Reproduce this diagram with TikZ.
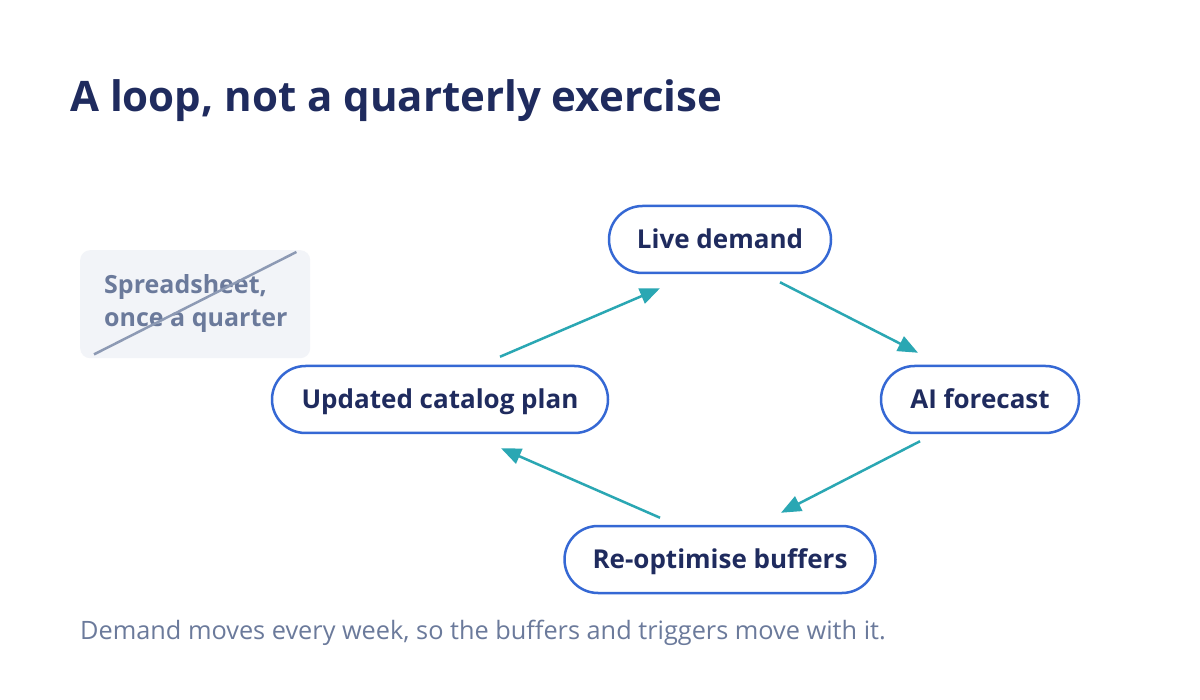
\documentclass[tikz,border=0pt]{standalone}
\usepackage{fontspec}
\setmainfont{Open Sans}
\usetikzlibrary{arrows.meta,calc}

\definecolor{navy}{HTML}{1F2B5E}
\definecolor{pillblue}{HTML}{3568D4}
\definecolor{teal}{HTML}{2AA7B3}
\definecolor{slate}{HTML}{6B7A9B}
\definecolor{strike}{HTML}{8D9AB4}
\definecolor{paper}{HTML}{F2F4F8}

\begin{document}
\begin{tikzpicture}[x=1pt,y=-1pt,>={Triangle[length=20pt,width=16pt]},
  pill/.style={draw=pillblue,line width=2.5pt,fill=white,
    rounded corners=33.5pt,minimum height=67pt,text=navy,
    text height=18pt,text depth=0pt,
    font=\fontsize{26}{31}\selectfont\bfseries},
  flow/.style={->,draw=teal,line width=2.5pt}]
  \useasboundingbox[fill=white] (0,0) rectangle (1200,700);

  \node[anchor=base west,text=navy,inner sep=0pt,
    font=\fontsize{42}{50}\selectfont\bfseries] (title)
    at (70,112) {A loop, not a quarterly exercise};

  % crossed-out old way
  \node[fill=paper,rounded corners=10pt,minimum width=230pt,
    minimum height=108pt,anchor=north west] (old) at (80,250) {};
  \node[anchor=north west,align=left,inner sep=0pt,text=slate,
    font=\fontsize{25}{33}\selectfont\bfseries] (oldtext)
    at (104,274) {Spreadsheet,\\once a quarter};
  \draw[strike,line width=2.5pt] ($(old.south west)+(14,-4)$) --
    ($(old.north east)+(-14,2)$);

  % the loop
  \node[pill,minimum width=222pt] (live) at (720,239.5) {Live demand};
  \node[pill,minimum width=198pt] (ai) at (980,399.5) {AI forecast};
  \node[pill,minimum width=311pt] (reopt) at (720,559.5)
    {Re-optimise buffers};
  \node[pill,minimum width=336pt] (plan) at (440,399.5)
    {Updated catalog plan};

  \draw[flow] ($(plan.north)+(60,-8)$) -- ($(live.south)+(-60,14)$);
  \draw[flow] ($(live.south)+(60,8)$) -- ($(ai.north)+(-62,-12)$);
  \draw[flow] ($(ai.south)+(-60,7)$) -- ($(reopt.north)+(61,-12)$);
  \draw[flow] ($(reopt.north)+(-60,-7)$) -- ($(plan.south)+(61,14)$);

  \node[anchor=base west,inner sep=0pt,text=slate,
    font=\fontsize{25.3}{30}\selectfont] (caption) at (80,639)
    {Demand moves every week, so the buffers and triggers move with it.};
\end{tikzpicture}
\end{document}
